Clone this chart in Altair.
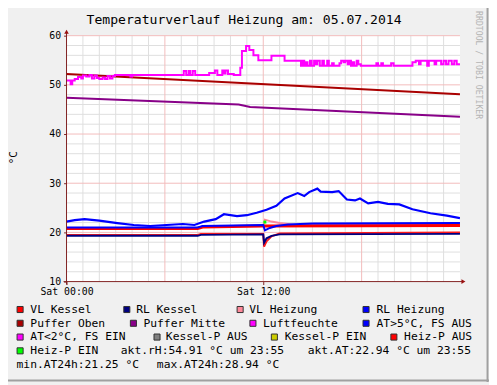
import altair as alt
import pandas as pd

# ---------------- text / ticks ----------------
TITLE = "Temperaturverlauf Heizung am: 05.07.2014"
Y_UNIT = "°C"
WATERMARK = "RRDTOOL / TOBI OETIKER"
x_tick_hours = [0, 12]
x_tick_labels = ["Sat 00:00", "Sat 12:00"]
y_ticks = [10, 20, 30, 40, 50, 60]

# ---------------- series (hour of day, value) ----------------
puffer_oben_h = [0, 24]
puffer_oben_v = [52.2, 48.1]

puffer_mitte_h = [0, 10.5, 11.2, 24]
puffer_mitte_v = [47.4, 46.0, 45.5, 43.5]

luft_h = [0.0, 0.25, 0.35, 0.5, 0.7, 0.9, 1.0, 1.2, 1.4, 1.55, 1.7, 1.85, 2.0, 2.2, 2.35,
          2.5, 2.65, 2.8, 2.95, 3.9, 4.0, 7.15, 7.3, 7.45, 7.55, 7.7, 7.85, 8.7, 9.05, 9.2,
          9.5, 9.6, 9.7, 9.85, 10.0, 10.2, 10.6, 10.7, 10.95, 11.15, 11.4, 11.7, 12.5, 13.3,
          14.3, 14.4, 14.5, 14.6, 14.7, 14.85, 14.95, 15.1, 15.2, 15.3, 15.45, 15.6, 15.7,
          15.9, 16.0, 16.2, 16.3, 16.65, 16.75, 16.9, 17.0, 17.15, 17.25, 17.35, 17.45,
          17.55, 17.7, 17.8, 17.95, 18.9, 19.0, 19.2, 19.3, 19.8, 19.95, 21.1, 21.3, 21.5,
          21.6, 22.0, 22.1, 22.45, 22.55, 22.7, 22.85, 23.0, 23.15, 23.3, 23.5, 23.65,
          23.8, 24.0]
luft_v = [50.9, 50.1, 50.9, 51.2, 51.6, 51.3, 51.9, 51.7, 52.0, 51.3, 51.9, 51.4, 51.2, 51.5, 51.2,
          51.8, 51.3, 51.8, 52.0, 51.7, 52.0, 52.8, 52.0, 52.8, 52.0, 52.8, 52.0, 52.4, 52.9, 52.0,
          52.9, 52.3, 52.9, 52.2, 52.2, 52.0, 53.5, 56.9, 57.9, 57.1, 56.0, 55.0, 55.9, 54.9,
          53.9, 54.9, 53.9, 54.6, 53.9, 54.9, 53.9, 54.9, 54.2, 54.9, 53.9, 54.9, 53.9,
          54.9, 53.9, 54.4, 53.9, 54.4, 54.9, 54.6, 54.9, 54.2, 54.9, 53.9, 54.6,
          53.9, 54.9, 54.2, 53.9, 54.4, 53.9, 54.4, 53.9, 54.4, 53.9, 54.6, 54.9, 54.2,
          54.9, 53.9, 54.9, 54.2, 54.9, 54.9, 54.2, 54.9, 54.2, 54.9, 54.2, 54.9,
          54.2, 54.2]

at_h = [0, 0.5, 1.1, 2.0, 3.1, 4.1, 5.1, 6.1, 7.1, 7.8, 8.4, 9.1, 9.6, 10.4, 11.0, 11.6,
        12.2, 12.8, 13.3, 14.1, 14.5, 14.8, 15.3, 15.5, 16.2, 16.6, 17.1, 17.6, 17.9, 18.4,
        19.0, 19.6, 20.3, 21.1, 22.2, 23.2, 24.0]
at_v = [22.2, 22.5, 22.7, 22.4, 21.9, 21.5, 21.3, 21.5, 21.7, 21.5, 22.2, 22.7, 23.7, 23.3,
        23.5, 24.0, 24.6, 25.4, 26.9, 28.0, 27.4, 28.2, 28.9, 28.3, 28.2, 28.4, 26.7, 26.5,
        26.9, 25.9, 26.2, 25.8, 25.7, 24.7, 23.9, 23.4, 22.9]

vl_kessel_h = [0, 8.0, 8.3, 11.9, 24]
vl_kessel_v = [20.8, 20.8, 21.1, 21.3, 21.4]

vl_heizung_h = [0, 8.0, 8.3, 12.0, 12.1, 12.5, 13.0, 13.5, 14.0, 24]
vl_heizung_v = [20.9, 20.9, 21.2, 21.3, 22.6, 22.2, 21.9, 21.7, 21.5, 21.4]

rl_heizung_h = [0, 8.0, 8.3, 12.0, 12.1, 12.4, 12.8, 13.5, 15.0, 24]
rl_heizung_v = [21.0, 21.0, 21.3, 21.5, 20.4, 20.9, 21.3, 21.6, 21.8, 21.9]

heizp_aus_h = [0, 8.0, 8.2, 12.0, 12.05, 12.2, 12.5, 13.0, 24]
heizp_aus_v = [19.5, 19.5, 19.7, 19.7, 17.1, 18.2, 19.2, 19.8, 20.0]

rl_kessel_h = [0, 8.0, 8.2, 12.0, 12.05, 12.2, 12.5, 13.0, 24]
rl_kessel_v = [19.3, 19.3, 19.5, 19.6, 17.9, 18.8, 19.3, 19.6, 19.7]

heizp_ein_h = [12.1]
heizp_ein_v = [22.1]

# ---------------- legend ----------------
legend_labels = ["VL Kessel", "RL Kessel", "VL Heizung", "RL Heizung",
                 "Puffer Oben", "Puffer Mitte", "Luftfeuchte", "AT>5°C, FS AUS",
                 "AT<2°C, FS EIN", "Kessel-P AUS", "Kessel-P EIN", "Heiz-P AUS",
                 "Heiz-P EIN"]
legend_colors = ["#ff0000", "#000080", "#ff8899", "#0000ff",
                 "#aa0000", "#880088", "#ff00ff", "#0000ff",
                 "#ff00ff", "#808080", "#cccc00", "#ff0000",
                 "#00ff00"]
info_texts = ["akt.rH:54.91 °C um 23:55", "akt.AT:22.94 °C um 23:55",
              "min.AT24h:21.25 °C", "max.AT24h:28.94 °C"]

# ---------------- layout (page pixels) ----------------
W, H = 400, 250
X0, Y0 = 67.5, 33.0          # plot origin on the page
leg_sq_x = [20.3, 128.8, 244.0, 372.0, 20.3, 135.5, 257.0, 372.0, 20.3, 159.5, 278.8, 400.3, 20.3]
leg_tx_x = [30.7, 138.3, 253.3, 382.7, 30.7, 145.7, 267.3, 382.7, 30.7, 168.5, 289.3, 410.7, 30.7]
leg_row = [0, 0, 0, 0, 1, 1, 1, 1, 2, 2, 2, 2, 3]
info_x = [122.7, 312.7, 16.7, 159.3]
info_row = [3, 3, 4, 4]
row_base = [314.8, 328.8, 342.8, 356.8, 370.8]

MONO = "DejaVu Sans Mono"
AXIS_C = "#802020"
ARROW_C = "#9a1010"

XS = alt.Scale(domain=[0, 24], nice=False, zero=False)
YS = alt.Scale(domain=[10, 60], nice=False, zero=False)

x_label_expr = "[" + ",".join("'%s'" % s for s in x_tick_labels) + "][indexof([" + \
    ",".join(str(h) for h in x_tick_hours) + "], datum.value)]"

AX_X = alt.Axis(values=x_tick_hours, labelExpr=x_label_expr, title=None, grid=False,
                domain=False, ticks=True, tickSize=3, tickColor=AXIS_C,
                labelFont=MONO, labelFontSize=10, labelColor="#000000", labelPadding=2,
                labelFlush=False)
AX_Y = alt.Axis(values=y_ticks, title=None, grid=False, domain=False, ticks=True,
                tickSize=3, tickColor=AXIS_C, labelFont=MONO, labelFontSize=10,
                labelColor="#000000", labelPadding=3, format="d")


def rx(x):
    return x - X0


def ry(y):
    return y - Y0


def X(field):
    return alt.X(field, scale=XS, axis=AX_X)


def Y(field):
    return alt.Y(field, scale=YS, axis=AX_Y)


one = pd.DataFrame({"a": [0]})

# grid
minor_v = pd.DataFrame({"h": [h for h in range(1, 24) if h % 6 != 0]})
major_v = pd.DataFrame({"h": [6, 12, 18]})
minor_h = pd.DataFrame({"v": [v for v in range(12, 60, 2) if v % 10 != 0]})
major_h = pd.DataFrame({"v": [20, 30, 40, 50, 60]})

layers = []
layers.append(alt.Chart(minor_v).mark_rule(color="#dedede", strokeWidth=1).encode(x=X("h:Q")))
layers.append(alt.Chart(minor_h).mark_rule(color="#dedede", strokeWidth=1).encode(y=Y("v:Q")))
layers.append(alt.Chart(major_v).mark_rule(color="#f3bcbc", strokeWidth=1).encode(x=X("h:Q")))
layers.append(alt.Chart(major_h).mark_rule(color="#f3bcbc", strokeWidth=1).encode(y=Y("v:Q")))


def line(h, v, color, width, interp="linear"):
    df = pd.DataFrame({"h": h, "v": v})
    return alt.Chart(df).mark_line(color=color, strokeWidth=width, interpolate=interp,
                                   clip=True).encode(x=X("h:Q"), y=Y("v:Q"))


layers.append(line(vl_heizung_h, vl_heizung_v, "#ff8899", 2))
layers.append(line(vl_kessel_h, vl_kessel_v, "#ff0000", 3))
layers.append(line(rl_heizung_h, rl_heizung_v, "#0000ff", 2))
layers.append(line(heizp_aus_h, heizp_aus_v, "#ff1a1a", 2))
layers.append(line(rl_kessel_h, rl_kessel_v, "#000080", 2))
layers.append(line(puffer_oben_h, puffer_oben_v, "#aa0000", 2))
layers.append(line(puffer_mitte_h, puffer_mitte_v, "#880088", 2))
layers.append(line(at_h, at_v, "#0000ff", 2.2))
layers.append(line(luft_h, luft_v, "#ff00ff", 2, "step-after"))
layers.append(alt.Chart(pd.DataFrame({"h": heizp_ein_h, "v": heizp_ein_v})).mark_square(
    color="#00ff00", size=9, opacity=1).encode(x=X("h:Q"), y=Y("v:Q")))

# axes lines + arrows
layers.append(alt.Chart(one).mark_rule(color=AXIS_C, strokeWidth=1).encode(
    x=alt.value(-3), x2=alt.value(rx(470)), y=alt.value(H)))
layers.append(alt.Chart(one).mark_rule(color=AXIS_C, strokeWidth=1).encode(
    x=alt.value(0), y=alt.value(H + 3), y2=alt.value(ry(30))))
layers.append(alt.Chart(one).mark_point(shape="triangle-right", filled=True, size=22,
                                        color=ARROW_C, opacity=1).encode(
    x=alt.value(rx(471)), y=alt.value(H)))
layers.append(alt.Chart(one).mark_point(shape="triangle-up", filled=True, size=22,
                                        color=ARROW_C, opacity=1).encode(
    x=alt.value(0), y=alt.value(ry(29))))

# title, unit, watermark
layers.append(alt.Chart(one).mark_text(text=TITLE, font=MONO, fontSize=13.3, color="#000000",
                                       align="center", baseline="alphabetic").encode(
    x=alt.value(rx(248)), y=alt.value(ry(21.3))))
layers.append(alt.Chart(one).mark_text(text=Y_UNIT, font=MONO, fontSize=11, color="#000000",
                                       align="center", baseline="middle", angle=270).encode(
    x=alt.value(rx(14)), y=alt.value(ry(157))))
layers.append(alt.Chart(one).mark_text(text=WATERMARK, font=MONO, fontSize=8.3, color="#b4b4b4",
                                       align="left", baseline="middle", angle=90).encode(
    x=alt.value(rx(486)), y=alt.value(ry(8))))

# legend
leg_df = pd.DataFrame({
    "label": legend_labels, "color": legend_colors,
    "sx": [rx(x) for x in leg_sq_x], "tx": [rx(x) for x in leg_tx_x],
    "sy": [ry(row_base[r] - 3.4) for r in leg_row],
    "ty": [ry(row_base[r]) for r in leg_row],
})
layers.append(alt.Chart(leg_df).mark_square(size=38, stroke="#303030", strokeWidth=1,
                                            opacity=1).encode(
    x=alt.X("sx:Q", scale=None, axis=None), y=alt.Y("sy:Q", scale=None, axis=None),
    fill=alt.Fill("color:N", scale=None, legend=None)))
layers.append(alt.Chart(leg_df).mark_text(font=MONO, fontSize=11.5, color="#000000",
                                          align="left", baseline="alphabetic").encode(
    x=alt.X("tx:Q", scale=None, axis=None), y=alt.Y("ty:Q", scale=None, axis=None),
    text="label:N"))
info_df = pd.DataFrame({"label": info_texts, "tx": [rx(x) for x in info_x],
                        "ty": [ry(row_base[r]) for r in info_row]})
layers.append(alt.Chart(info_df).mark_text(font=MONO, fontSize=11.5, color="#000000",
                                           align="left", baseline="alphabetic").encode(
    x=alt.X("tx:Q", scale=None, axis=None), y=alt.Y("ty:Q", scale=None, axis=None),
    text="label:N"))

# frame shade (right / bottom)
layers.append(alt.Chart(one).mark_rule(color="#a0a0a0", strokeWidth=2).encode(
    x=alt.value(rx(495.5)), y=alt.value(ry(0)), y2=alt.value(ry(385))))
layers.append(alt.Chart(one).mark_rule(color="#a0a0a0", strokeWidth=2).encode(
    x=alt.value(rx(0)), x2=alt.value(rx(497)), y=alt.value(ry(383.5))))

chart = alt.layer(*layers).properties(
    width=W, height=H,
    autosize=alt.AutoSizeParams(type="none"),
    padding={"left": X0 - 8, "top": Y0 - 8, "right": 497 - 8 - (X0 - 8) - W,
             "bottom": 385 - 8 - (Y0 - 8) - H},
    background="#f0f0f0",
).configure_view(fill="#ffffff", stroke=None)

chart.save("out.html", embed_options={"renderer": "svg", "actions": False})
